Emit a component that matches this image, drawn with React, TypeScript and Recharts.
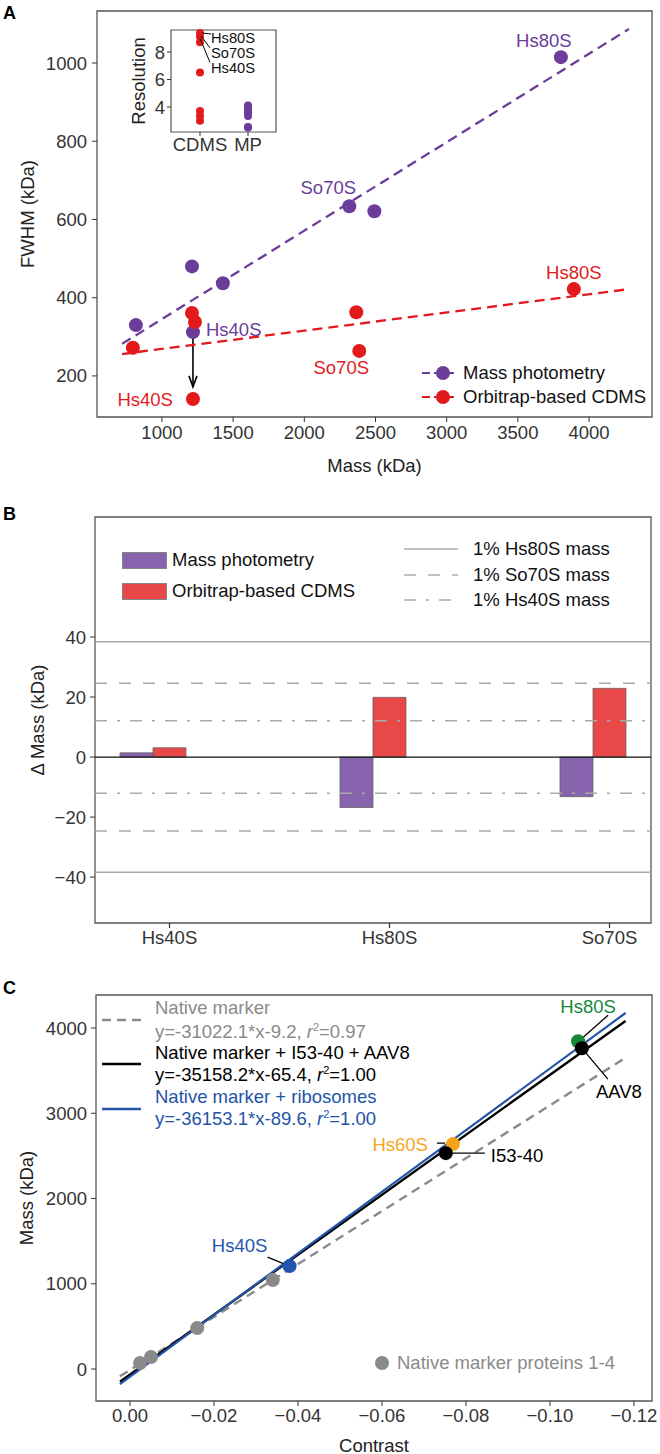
import React from "react";
import {
  ScatterChart, Scatter, BarChart, Bar, XAxis, YAxis,
  ReferenceLine, ReferenceArea, Legend,
} from "recharts";

const FONT = '"Liberation Sans", Arial, Helvetica, sans-serif';
const FS = 18.5;
const PURPLE = "#6A3D9A";
const RED = "#E31A1C";
const AXIS = "#333";
const BORDER = "#555";
const GREY = "#8a8a8a";
const BLUE = "#2454A6";

// ---------- A: FWHM vs mass ----------
const mpMass = [817, 1211, 1428, 1218, 2316, 2492, 3802];
const mpFwhm = [330, 480, 437, 312, 634, 621, 1015];
const mpNames = ["", "", "", "Hs40S", "So70S", "", "Hs80S"];
const cdmsMass = [796, 1211, 1232, 1218, 2365, 2386, 3893];
const cdmsFwhm = [272, 361, 338, 141, 363, 264, 422];
const cdmsNames = ["", "", "", "Hs40S", "", "So70S", "Hs80S"];
const mpFitMass = [720, 4280];
const mpFitFwhm = [282, 1087];
const cdmsFitMass = [720, 4280];
const cdmsFitFwhm = [256, 422];
const arrowMass = [1218, 1218];
const arrowFwhm = [358, 172];
const massTicks = [1000, 1500, 2000, 2500, 3000, 3500, 4000];
const fwhmTicks = [200, 400, 600, 800, 1000];

// inset: resolution
const insetGroups = ["CDMS", "MP"];
const cdmsResolution = [9.38, 9.1, 8.7, 6.5, 3.7, 3.35, 3.0];
const cdmsResNames = ["Hs80S", "So70S", "Hs40S", "", "", "", ""];
const mpResolution = [4.1, 3.9, 3.75, 3.6, 3.35, 2.55, 2.5];
const resolutionTicks = [4, 6, 8];

// ---------- B: mass deviation ----------
const complexes = ["Hs40S", "Hs80S", "So70S"];
const mpDelta = [1.4, -16.8, -13.2];
const cdmsDelta = [3.1, 19.9, 22.9];
const onePercent = [38.4, 24.6, 12.1]; // Hs80S, So70S, Hs40S
const deltaTicks = [-40, -20, 0, 20, 40];

// ---------- C: contrast calibration ----------
const markerContrast = [-0.0024, -0.005, -0.016, -0.034];
const markerMass = [70, 141, 480, 1043];
const otherNames = ["Hs40S", "Hs60S", "Hs80S", "I53-40", "AAV8"];
const otherContrast = [-0.038, -0.0769, -0.1067, -0.0752, -0.1076];
const otherMass = [1207, 2638, 3845, 2532, 3763];
const fitContrast = [0.0024, -0.118];
const fitNative = [-84, 3651];
const fitI53 = [-150, 4083];
const fitRibo = [-176, 4176];
const contrastTicks = [0, -0.02, -0.04, -0.06, -0.08, -0.1, -0.12];
const cMassTicks = [0, 1000, 2000, 3000, 4000];

const minus = (v: number, d = 0) => (v < 0 ? "\u2212" + Math.abs(v).toFixed(d) : v.toFixed(d));

const titleX = (text: string, dy: number) => ({ viewBox }: any) => (
  <text x={viewBox.x + viewBox.width / 2} y={viewBox.y + dy} textAnchor="middle" dominantBaseline="central" fontSize={FS} fill="#222">{text}</text>
);
const titleY = (text: string, cx: number) => ({ viewBox }: any) => {
  const cy = viewBox.y + viewBox.height / 2;
  return (
    <text x={cx} y={cy} transform={`rotate(-90 ${cx} ${cy})`} textAnchor="middle" dominantBaseline="central" fontSize={FS} fill="#222">{text}</text>
  );
};

const tickStyle = { fill: AXIS, fontSize: FS };
const noShape = () => <g />;

// label offsets (px) for named points
const aLabelMp: Record<string, any> = {
  Hs80S: { dx: -17, dy: -17, anchor: "middle" },
  So70S: { dx: -21, dy: -19, anchor: "middle" },
  Hs40S: { dx: 13, dy: -3, anchor: "start" },
};
const aLabelCdms: Record<string, any> = {
  Hs80S: { dx: 0, dy: -17, anchor: "middle" },
  So70S: { dx: -18, dy: 17, anchor: "middle" },
  Hs40S: { dx: -20, dy: 0, anchor: "end" },
};

const labeledDot = (color: string, offsets: Record<string, any>, r = 7) => (p: any) => {
  const name = p.payload?.name;
  const o = name ? offsets[name] : null;
  return (
    <g>
      <circle cx={p.cx} cy={p.cy} r={r} fill={color} />
      {o && (
        <text x={p.cx + o.dx} y={p.cy + o.dy} textAnchor={o.anchor} dominantBaseline="central" fill={color} fontSize={FS}>{name}</text>
      )}
    </g>
  );
};

const Arrow = (p: any) => (
  <g>
    <line x1={p.x1} y1={p.y1} x2={p.x2} y2={p.y2} stroke="#000" strokeWidth={1.6} />
    <polyline points={`${p.x2 - 4},${p.y2 - 11} ${p.x2},${p.y2} ${p.x2 + 4},${p.y2 - 11}`} fill="none" stroke="#000" strokeWidth={1.6} />
  </g>
);

const legendA = () => (
  <div style={{ position: "relative", fontSize: FS, color: "#111" }}>
    {[{ c: PURPLE, t: "Mass photometry", y: 373 }, { c: RED, t: "Orbitrap-based CDMS", y: 397 }].map((it) => (
      <React.Fragment key={it.t}>
        <svg width={40} height={20} style={{ position: "absolute", left: 420, top: it.y - 10 }}>
          <line x1={2} x2={36} y1={10} y2={10} stroke={it.c} strokeWidth={2.2} strokeDasharray="8 4" />
          <circle cx={23} cy={10} r={7} fill={it.c} />
        </svg>
        <div style={{ position: "absolute", left: 463, top: it.y - 11, lineHeight: "22px", whiteSpace: "nowrap" }}>{it.t}</div>
      </React.Fragment>
    ))}
  </div>
);

function PanelA() {
  const mpRows = mpMass.map((m, i) => ({ x: m, y: mpFwhm[i], name: mpNames[i] }));
  const cdmsRows = cdmsMass.map((m, i) => ({ x: m, y: cdmsFwhm[i], name: cdmsNames[i] }));
  const mpFit = mpFitMass.map((m, i) => ({ x: m, y: mpFitFwhm[i] }));
  const cdmsFit = cdmsFitMass.map((m, i) => ({ x: m, y: cdmsFitFwhm[i] }));
  return (
    <ScatterChart width={660} height={480} margin={{ top: 11, right: 8, bottom: 0, left: 0 }}>
      <XAxis type="number" dataKey="x" domain={[544, 4442]} ticks={massTicks} height={63} axisLine={false}
        tickLine={{ stroke: AXIS }} tickSize={5} tickMargin={4} tick={tickStyle}
        label={{ content: titleX("Mass (kDa)", 48) }} />
      <YAxis type="number" dataKey="y" domain={[95, 1133]} ticks={fwhmTicks} width={97} axisLine={false}
        tickLine={{ stroke: AXIS }} tickSize={5} tickMargin={5} tick={tickStyle}
        label={{ content: titleY("FWHM (kDa)", 27) }} />
      <ReferenceArea x1={544} x2={4442} y1={95} y2={1133} fill="none" stroke={BORDER} strokeWidth={1.3} ifOverflow="visible" />
      <Scatter data={mpFit} shape={noShape} line={{ stroke: PURPLE, strokeWidth: 2.3, strokeDasharray: "10 6" }} isAnimationActive={false} />
      <Scatter data={cdmsFit} shape={noShape} line={{ stroke: RED, strokeWidth: 2.3, strokeDasharray: "10 6" }} isAnimationActive={false} />
      <Scatter data={mpRows} shape={labeledDot(PURPLE, aLabelMp)} isAnimationActive={false} />
      <Scatter data={cdmsRows} shape={labeledDot(RED, aLabelCdms)} isAnimationActive={false} />
      <ReferenceLine segment={[{ x: arrowMass[0], y: arrowFwhm[0] }, { x: arrowMass[1], y: arrowFwhm[1] }]} shape={Arrow} ifOverflow="visible" />
      <Legend layout="vertical" align="center" verticalAlign="middle" content={legendA}
        wrapperStyle={{ left: 0, top: 0, width: 660, height: 0 }} />
    </ScatterChart>
  );
}

// inset leader offsets from the point (px)
const insetLeader: Record<string, number[]> = {
  Hs80S: [2, 0, 11, 1, 11, 5],
  So70S: [1, -1, 10, 11, 11, 16],
  Hs40S: [0, -4, 10, 20, 11, 26],
};
const insetDot = (color: string) => (p: any) => {
  const l = p.payload?.name ? insetLeader[p.payload.name] : null;
  return (
    <g>
      <circle cx={p.cx} cy={p.cy} r={4} fill={color} />
      {l && (
        <g>
          <line x1={p.cx + l[0]} y1={p.cy + l[1]} x2={p.cx + l[2]} y2={p.cy + l[3]} stroke="#000" strokeWidth={1} />
          <text x={p.cx + l[4]} y={p.cy + l[5]} dominantBaseline="central" fontSize={14.7} fill="#111">{p.payload.name}</text>
        </g>
      )}
    </g>
  );
};

function Inset() {
  const cdmsRows = cdmsResolution.map((v, i) => ({ x: 1, y: v, name: cdmsResNames[i] }));
  const mpRows = mpResolution.map((v) => ({ x: 2, y: v, name: "" }));
  return (
    <ScatterChart width={170} height={150} margin={{ top: 10, right: 4, bottom: 0, left: 0 }}>
      <XAxis type="number" dataKey="x" domain={[0.396, 2.583]} ticks={[1, 2]} height={38} axisLine={false}
        tickLine={{ stroke: AXIS }} tickSize={4} tickMargin={2} tick={tickStyle}
        tickFormatter={(v: number) => insetGroups[v - 1]} />
      <YAxis type="number" dataKey="y" domain={[2.18, 9.6]} ticks={resolutionTicks} width={61} axisLine={false}
        tickLine={{ stroke: AXIS }} tickSize={4} tickMargin={2} tick={tickStyle}
        label={{ content: titleY("Resolution", 28) }} />
      <ReferenceArea x1={0.396} x2={2.583} y1={2.18} y2={9.6} fill="#fff" stroke={BORDER} strokeWidth={1.2} ifOverflow="visible" />
      <Scatter data={mpRows} shape={insetDot(PURPLE)} isAnimationActive={false} />
      <Scatter data={cdmsRows} shape={insetDot(RED)} isAnimationActive={false} />
    </ScatterChart>
  );
}

// ---------- B ----------
const BAR_SIZE = 33;
const refStyles = [
  { dash: undefined, label: "1% Hs80S mass" },
  { dash: "12 12", label: "1% So70S mass" },
  { dash: "12 10 3 10", label: "1% Hs40S mass" },
];

const BarTick = (p: any) => {
  const x = p.x + BAR_SIZE / 2;
  return (
    <g>
      <line x1={x} x2={x} y1={p.y - 8} y2={p.y - 3} stroke={AXIS} strokeWidth={1.2} />
      <text x={x} y={p.y} dy="0.71em" textAnchor="middle" fill={AXIS} fontSize={FS}>{complexes[p.payload.value - 1]}</text>
    </g>
  );
};

const legendB = () => (
  <div style={{ position: "relative", fontSize: FS, color: "#111" }}>
    {[{ c: PURPLE, t: "Mass photometry", y: 60 }, { c: RED, t: "Orbitrap-based CDMS", y: 91 }].map((it) => (
      <React.Fragment key={it.t}>
        <div style={{ position: "absolute", left: 122, top: it.y - 8, width: 43, height: 15, background: it.c, opacity: 0.8, border: "1px solid #666" }} />
        <div style={{ position: "absolute", left: 172, top: it.y - 11, lineHeight: "22px", whiteSpace: "nowrap" }}>{it.t}</div>
      </React.Fragment>
    ))}
    {refStyles.map((s, i) => (
      <React.Fragment key={s.label}>
        <svg width={56} height={6} style={{ position: "absolute", left: 404, top: 49 + i * 25.5 - 3 }}>
          <line x1={0} x2={54} y1={3} y2={3} stroke="#aaa" strokeWidth={1.5} strokeDasharray={s.dash} />
        </svg>
        <div style={{ position: "absolute", left: 473, top: 49 + i * 25.5 - 11, lineHeight: "22px", whiteSpace: "nowrap" }}>{s.label}</div>
      </React.Fragment>
    ))}
  </div>
);

function PanelB() {
  const rows = complexes.map((c, i) => ({ x: i + 1, mp: mpDelta[i], cdms: cdmsDelta[i] }));
  return (
    <BarChart width={660} height={470} data={rows} margin={{ top: 17, right: 9, bottom: 0, left: 0 }} barGap={0} barSize={BAR_SIZE}>
      <XAxis type="number" dataKey="x" domain={[0.7364, 3.2636]} ticks={[1, 2, 3]} height={47} axisLine={false}
        tickLine={false} tickSize={5} tickMargin={3} tick={BarTick} />
      <YAxis type="number" domain={[-55.3, 80]} ticks={deltaTicks} width={95} axisLine={false}
        tickLine={{ stroke: AXIS }} tickSize={5} tickMargin={4} tick={tickStyle}
        tickFormatter={(v: number) => minus(v)}
        label={{ content: titleY("\u0394 Mass (kDa)", 37) }} />
      {onePercent.map((v, i) => (
        <ReferenceLine key={"p" + i} y={v} stroke="#aaa" strokeWidth={1.5} strokeDasharray={refStyles[i].dash} />
      ))}
      {onePercent.map((v, i) => (
        <ReferenceLine key={"n" + i} y={-v} stroke="#aaa" strokeWidth={1.5} strokeDasharray={refStyles[i].dash} />
      ))}
      <Bar dataKey="mp" fill={PURPLE} fillOpacity={0.8} stroke="#666" strokeWidth={0.8} isAnimationActive={false} />
      <Bar dataKey="cdms" fill={RED} fillOpacity={0.8} stroke="#666" strokeWidth={0.8} isAnimationActive={false} />
      <ReferenceLine y={0} stroke="#111" strokeWidth={1.3} />
      <ReferenceArea x1={0.7364} x2={3.2636} y1={-55.3} y2={80} fill="none" stroke={BORDER} strokeWidth={1.3} ifOverflow="visible" />
      <Legend layout="vertical" align="center" verticalAlign="middle" content={legendB}
        wrapperStyle={{ left: 0, top: 0, width: 660, height: 0 }} />
    </BarChart>
  );
}

// ---------- C ----------
const cColors: Record<string, string> = { Hs40S: "#1F55AA", Hs60S: "#F5A51C", Hs80S: "#17883A", "I53-40": "#000", AAV8: "#000" };
// leader [x1,y1,x2,y2] and label [dx,dy,anchor] offsets from the point (px)
const cAnno: Record<string, any> = {
  Hs40S: { l: [-22, -9, -5, -2], t: [-50, -21, "middle"] },
  Hs60S: { l: [-16, -1, -8, -1], t: [-25, 0, "end"] },
  Hs80S: { l: [30, -26, 4, -3], t: [10, -35, "middle"] },
  "I53-40": { l: [0, 0, 39, 0], t: [45, 2, "start"] },
  AAV8: { l: [0, 0, 26, 31], t: [37, 43, "middle"] },
};
const cDot = (p: any) => {
  const name = p.payload.name;
  const a = cAnno[name];
  return (
    <g>
      <line x1={p.cx + a.l[0]} y1={p.cy + a.l[1]} x2={p.cx + a.l[2]} y2={p.cy + a.l[3]} stroke="#000" strokeWidth={1.3} />
      <circle cx={p.cx} cy={p.cy} r={7} fill={cColors[name]} />
      <text x={p.cx + a.t[0]} y={p.cy + a.t[1]} textAnchor={a.t[2]} dominantBaseline="central" fontSize={FS} fill={cColors[name]}>{name}</text>
    </g>
  );
};
const greyDot = (p: any) => <circle cx={p.cx} cy={p.cy} r={7} fill={GREY} />;

const R2 = ({ v }: { v: string }) => (
  <span>, <i>r</i><sup style={{ fontSize: 11, verticalAlign: 7, lineHeight: 0 }}>2</sup>={v}</span>
);

const legendC = () => {
  const rows = [
    { c: GREY, y: 33, t: <>Native marker</> },
    { c: GREY, y: 57, t: <>y=-31022.1*x-9.2<R2 v="0.97" /></> },
    { c: "#000", y: 78, t: <>Native marker + I53-40 + AAV8</> },
    { c: "#000", y: 100, t: <>y=-35158.2*x-65.4<R2 v="1.00" /></> },
    { c: BLUE, y: 122, t: <>Native marker + ribosomes</> },
    { c: BLUE, y: 144, t: <>y=-36153.1*x-89.6<R2 v="1.00" /></> },
  ];
  const lines = [
    { c: GREY, y: 45, dash: "9 6" },
    { c: "#000", y: 89, dash: undefined },
    { c: BLUE, y: 134, dash: undefined },
  ];
  return (
    <div style={{ position: "relative", fontSize: FS }}>
      {lines.map((l, i) => (
        <svg key={i} width={40} height={6} style={{ position: "absolute", left: 102, top: l.y - 3 }}>
          <line x1={0} x2={39} y1={3} y2={3} stroke={l.c} strokeWidth={2.4} strokeDasharray={l.dash} />
        </svg>
      ))}
      {rows.map((r, i) => (
        <div key={i} style={{ position: "absolute", left: 155, top: r.y - 11, lineHeight: "22px", whiteSpace: "nowrap", color: r.c }}>{r.t}</div>
      ))}
      <svg width={16} height={16} style={{ position: "absolute", left: 374, top: 380 }}>
        <circle cx={8} cy={8} r={7} fill={GREY} />
      </svg>
      <div style={{ position: "absolute", left: 397, top: 377, lineHeight: "22px", whiteSpace: "nowrap", color: GREY }}>Native marker proteins 1-4</div>
    </div>
  );
};

function PanelC() {
  const markers = markerContrast.map((c, i) => ({ x: c, y: markerMass[i] }));
  const others = otherContrast.map((c, i) => ({ x: c, y: otherMass[i], name: otherNames[i] }));
  const fit = (m: number[]) => fitContrast.map((c, i) => ({ x: c, y: m[i] }));
  return (
    <ScatterChart width={660} height={479} margin={{ top: 20, right: 8, bottom: 0, left: 0 }}>
      <XAxis type="number" dataKey="x" domain={[-0.1243, 0.0081]} reversed ticks={contrastTicks} height={53} axisLine={false}
        tickLine={{ stroke: AXIS }} tickSize={5} tickMargin={3} tick={tickStyle}
        tickFormatter={(v: number) => minus(v, 2)}
        label={{ content: titleX("Contrast", 44) }} />
      <YAxis type="number" dataKey="y" domain={[-375, 4387]} ticks={cMassTicks} width={96} axisLine={false}
        tickLine={{ stroke: AXIS }} tickSize={5} tickMargin={4} tick={tickStyle}
        label={{ content: titleY("Mass (kDa)", 26) }} />
      <ReferenceArea x1={-0.1243} x2={0.0081} y1={-375} y2={4387} fill="none" stroke={BORDER} strokeWidth={1.3} ifOverflow="visible" />
      <Scatter data={fit(fitNative)} shape={noShape} line={{ stroke: GREY, strokeWidth: 2.4, strokeDasharray: "9 6" }} isAnimationActive={false} />
      <Scatter data={fit(fitI53)} shape={noShape} line={{ stroke: "#000", strokeWidth: 2.4 }} isAnimationActive={false} />
      <Scatter data={fit(fitRibo)} shape={noShape} line={{ stroke: BLUE, strokeWidth: 2.2 }} isAnimationActive={false} />
      <Scatter data={markers} shape={greyDot} isAnimationActive={false} />
      <Scatter data={others} shape={cDot} isAnimationActive={false} />
      <Legend layout="vertical" align="center" verticalAlign="middle" content={legendC}
        wrapperStyle={{ left: 0, top: 0, width: 660, height: 0 }} />
    </ScatterChart>
  );
}

const letter = (t: string, top: number) => (
  <div style={{ position: "absolute", left: 3, top: top - 11, fontWeight: "bold", fontSize: 18, lineHeight: "22px" }}>{t}</div>
);

export default function App() {
  return (
    <div style={{ position: "absolute", left: 0, top: 0, width: 660, height: 1454, background: "#fff", fontFamily: FONT, overflow: "hidden" }}>
      <div style={{ position: "absolute", left: 0, top: 0 }}><PanelA /></div>
      <div style={{ position: "absolute", left: 110, top: 20 }}><Inset /></div>
      <div style={{ position: "absolute", left: 0, top: 500 }}><PanelB /></div>
      <div style={{ position: "absolute", left: 0, top: 975 }}><PanelC /></div>
      {letter("A", 13)}
      {letter("B", 514)}
      {letter("C", 988)}
    </div>
  );
}
